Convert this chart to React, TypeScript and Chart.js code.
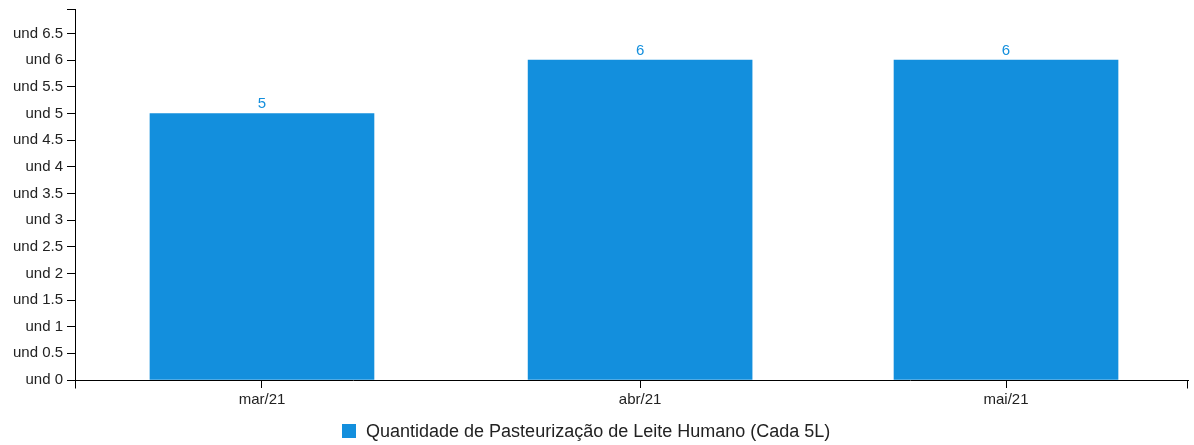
import React, { useEffect, useRef } from 'react';
import { Chart, registerables } from 'chart.js';

Chart.register(...registerables);

const categories = ['mar/21', 'abr/21', 'mai/21'];
const monthDates = ['2021-03-01', '2021-04-01', '2021-05-01'];
const values = [5, 6, 6];
const seriesLabel = 'Quantidade de Pasteurização de Leite Humano (Cada 5L)';
const yTickValues = [0, 0.5, 1, 1.5, 2, 2.5, 3, 3.5, 4, 4.5, 5, 5.5, 6, 6.5];
const yMax = 6.96;
const domainPadDays = [15.33, 14.92];

const BAR_COLOR = '#138fdd';
const TEXT_COLOR = '#222222';
const FONT = 'Liberation Sans, Arial, sans-serif';

const DAY = 86400000;
const baseTime = Date.parse(monthDates[0]);
const dayNums = monthDates.map((d) => (Date.parse(d) - baseTime) / DAY);

export default function App() {
  const ref = useRef<HTMLCanvasElement | null>(null);

  useEffect(() => {
    document.body.style.margin = '0';
    const canvas = ref.current;
    if (!canvas) return;

    const extras = {
      id: 'extras',
      afterDraw(chart: any) {
        const ctx = chart.ctx;
        const { left, right, top, bottom } = chart.chartArea;
        ctx.save();
        ctx.strokeStyle = '#000';
        ctx.lineWidth = 1;
        ctx.beginPath();
        ctx.moveTo(left - 8, Math.round(top) + 0.5);
        ctx.lineTo(left + 1, Math.round(top) + 0.5);
        ctx.moveTo(Math.round(left) + 0.5, bottom);
        ctx.lineTo(Math.round(left) + 0.5, bottom + 8.5);
        ctx.moveTo(Math.round(right) - 0.5, bottom);
        ctx.lineTo(Math.round(right) - 0.5, bottom + 8.5);
        ctx.stroke();

        const meta = chart.getDatasetMeta(0);
        ctx.fillStyle = BAR_COLOR;
        ctx.font = `15px ${FONT}`;
        ctx.textAlign = 'center';
        ctx.textBaseline = 'alphabetic';
        meta.data.forEach((el: any, i: number) => {
          ctx.fillText(String(values[i]), el.x, el.y - 5);
        });

        ctx.font = `18px ${FONT}`;
        const tw = ctx.measureText(seriesLabel).width;
        const box = 14;
        const gap = 10;
        const total = box + gap + tw;
        const cx = 586.5;
        const lx = Math.round(cx - total / 2);
        const ly = 424;
        ctx.fillStyle = BAR_COLOR;
        ctx.fillRect(lx, ly, box, box);
        ctx.fillStyle = TEXT_COLOR;
        ctx.textAlign = 'left';
        ctx.textBaseline = 'middle';
        ctx.fillText(seriesLabel, lx + box + gap, ly + box / 2 + 1);
        ctx.restore();
      },
    };

    const chart = new Chart(canvas, {
      type: 'bar',
      data: {
        datasets: [
          {
            label: seriesLabel,
            data: dayNums.map((x, i) => ({ x, y: values[i] })),
            backgroundColor: BAR_COLOR,
            borderWidth: 0,
            barThickness: 224,
          },
        ],
      },
      options: {
        responsive: false,
        animation: false,
        maintainAspectRatio: false,
        layout: { padding: { top: 9, right: 6, bottom: 35, left: 0 } },
        plugins: {
          legend: { display: false },
          tooltip: { enabled: false },
        },
        scales: {
          x: {
            type: 'linear',
            offset: false,
            min: dayNums[0] - domainPadDays[0],
            max: dayNums[dayNums.length - 1] + domainPadDays[1],
            afterBuildTicks: (scale: any) => {
              scale.ticks = dayNums.map((v) => ({ value: v }));
            },
            afterFit: (scale: any) => {
              scale.height = 30;
              scale.paddingLeft = 0;
              scale.paddingRight = 0;
            },
            grid: {
              offset: false,
              drawOnChartArea: false,
              drawTicks: true,
              tickLength: 8,
              color: '#000',
            },
            border: { display: true, color: '#000', width: 1 },
            ticks: {
              autoSkip: false,
              maxRotation: 0,
              padding: 3,
              color: TEXT_COLOR,
              font: { family: FONT, size: 15 },
              callback: (v: any) => {
                const idx = dayNums.indexOf(Number(v));
                return idx >= 0 ? categories[idx] : '';
              },
            },
          },
          y: {
            type: 'linear',
            min: 0,
            max: yMax,
            afterBuildTicks: (scale: any) => {
              scale.ticks = yTickValues.map((v) => ({ value: v }));
            },
            afterFit: (scale: any) => {
              scale.width = 75;
              scale.paddingTop = 0;
              scale.paddingBottom = 0;
            },
            grid: {
              drawOnChartArea: false,
              drawTicks: true,
              tickLength: 8,
              color: '#000',
            },
            border: { display: true, color: '#000', width: 1 },
            ticks: {
              autoSkip: false,
              padding: 4,
              color: TEXT_COLOR,
              font: { family: FONT, size: 15 },
              callback: (v: any) => `und ${v}`,
            },
          },
        },
      },
      plugins: [extras],
    });

    return () => chart.destroy();
  }, []);

  return <canvas ref={ref} width={1194} height={445} style={{ display: 'block' }} />;
}
